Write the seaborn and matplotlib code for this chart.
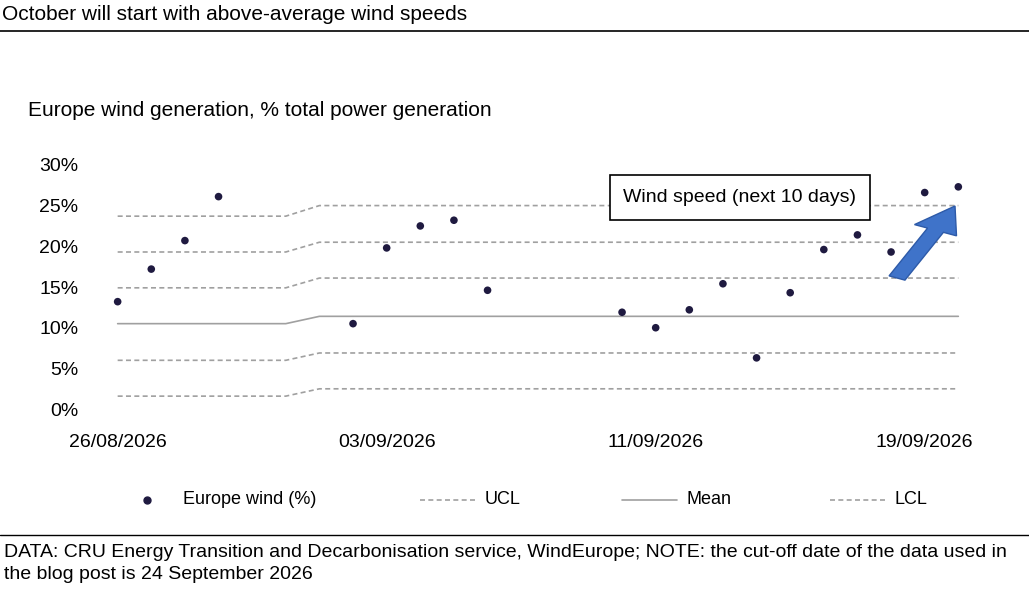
import matplotlib
matplotlib.use("Agg")
import matplotlib.pyplot as plt
import matplotlib.dates as mdates
import seaborn as sns
import pandas as pd
from matplotlib.patches import FancyArrow

sns.set_theme(style="white")
plt.rcParams['font.family'] = ['Liberation Sans', 'DejaVu Sans']
plt.rcParams['text.color'] = 'black'
plt.rcParams['xtick.color'] = 'black'
plt.rcParams['ytick.color'] = 'black'

wind_dates = ["2026-08-26","2026-08-27","2026-08-28","2026-08-29",
              "2026-09-02","2026-09-03","2026-09-04","2026-09-05","2026-09-06",
              "2026-09-10","2026-09-11","2026-09-12","2026-09-13","2026-09-14",
              "2026-09-15","2026-09-16","2026-09-17","2026-09-18","2026-09-19","2026-09-20"]
wind_vals = [13.2,17.2,20.7,26.1,10.5,19.8,22.5,23.2,14.6,11.9,10.0,12.2,15.4,6.3,14.3,19.6,21.4,19.3,26.6,27.3]

ctrl_dates = ["2026-08-26","2026-08-31","2026-09-01","2026-09-20"]
mean_vals = [10.5,10.5,11.4,11.4]
ucl3 = [23.7,23.7,25.0,25.0]
ucl2 = [19.3,19.3,20.5,20.5]
ucl1 = [14.9,14.9,16.1,16.1]
lcl1 = [6.0,6.0,6.9,6.9]
lcl2 = [1.6,1.6,2.5,2.5]

tick_dates = ["2026-08-26","2026-09-03","2026-09-11","2026-09-19"]

wd = pd.to_datetime(wind_dates)
cd = pd.to_datetime(ctrl_dates)

fig = plt.figure(figsize=(10.29,5.93), dpi=100)
ax = fig.add_axes([0.098, 0.310, 0.866, 0.412])

grey = "#a0a0a0"
for arr in [ucl3, ucl2, ucl1, lcl1, lcl2]:
    sns.lineplot(x=cd, y=arr, ax=ax, color=grey, linestyle=(0,(3,2)), linewidth=1.2)
sns.lineplot(x=cd, y=mean_vals, ax=ax, color=grey, linewidth=1.2)
sns.scatterplot(x=wd, y=wind_vals, ax=ax, color="#1f1a40", s=30, edgecolor="none", zorder=5)

ax.set_ylim(0,30)
ax.set_yticks(range(0,31,5))
ax.set_yticklabels([f"{v}%" for v in range(0,31,5)], fontsize=14)
ax.set_xlim(pd.Timestamp("2026-08-25 12:00"), pd.Timestamp("2026-09-21"))
ax.set_xticks(pd.to_datetime(tick_dates))
ax.xaxis.set_major_formatter(mdates.DateFormatter("%d/%m/%Y"))
ax.tick_params(axis='x', labelsize=14, pad=12)
ax.tick_params(axis='y', pad=10)
ax.set_xlabel(""); ax.set_ylabel("")
for s in ax.spines.values():
    s.set_visible(False)

ax.text(pd.Timestamp("2026-09-13 12:00"), 26.0, "Wind speed (next 10 days)", fontsize=14,
        ha="center", va="center", zorder=6,
        bbox=dict(boxstyle="square,pad=0.7", fc="white", ec="black", lw=1.2))

fig.patches.append(FancyArrow(897/1029, 1-278/593, 58/1029, 72/593,
    width=0.017, head_width=0.045, head_length=0.045, length_includes_head=True,
    transform=fig.transFigure, color="#3f73c9", ec="#2d5aa8"))

fig.text(0.002, 1-15/593, "October will start with above-average wind speeds", fontsize=15, va="center")
fig.add_artist(plt.Line2D([0,1],[1-31/593]*2, color="black", lw=1.2))
fig.text(0.027, 1-110/593, "Europe wind generation, % total power generation", fontsize=15, va="center")

ly = 1-500/593
fig.add_artist(plt.Line2D([147/1029],[ly], marker="o", color="#1f1a40", ms=5, ls="none"))
fig.text(183/1029, ly, "Europe wind (%)", fontsize=13, va="center")
fig.add_artist(plt.Line2D([420/1029,475/1029],[ly]*2, color=grey, ls=(0,(3,2)), lw=1.2))
fig.text(485/1029, ly, "UCL", fontsize=13, va="center")
fig.add_artist(plt.Line2D([622/1029,677/1029],[ly]*2, color=grey, lw=1.2))
fig.text(687/1029, ly, "Mean", fontsize=13, va="center")
fig.add_artist(plt.Line2D([830/1029,885/1029],[ly]*2, color=grey, ls=(0,(3,2)), lw=1.2))
fig.text(895/1029, ly, "LCL", fontsize=13, va="center")

fig.add_artist(plt.Line2D([0,1],[1-535/593]*2, color="black", lw=1))
fig.text(0.004, 1-544/593, "DATA: CRU Energy Transition and Decarbonisation service, WindEurope; NOTE: the cut-off date of the data used in\nthe blog post is 24 September 2026",
         fontsize=14, va="top", linespacing=1.4)

fig.savefig("out.png", dpi=100)
